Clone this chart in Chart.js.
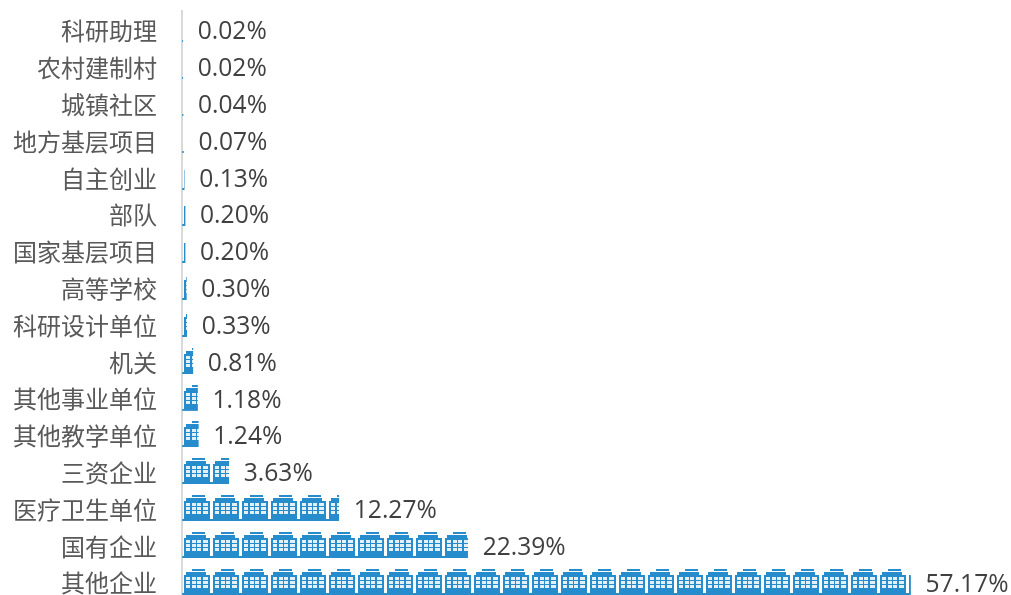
<!DOCTYPE html>
<html><head><meta charset="utf-8">
<style>html,body{margin:0;padding:0;background:#fff;overflow:hidden}#wrap{position:relative;width:1011px;height:595px;overflow:hidden}#wrap canvas{position:absolute;left:0;top:0}</style>
<script src="https://cdn.jsdelivr.net/npm/chart.js@4"></script>
</head><body><div id="wrap"><canvas id="c"></canvas></div>
<script>
const categories = ['科研助理','农村建制村','城镇社区','地方基层项目','自主创业','部队','国家基层项目','高等学校','科研设计单位','机关','其他事业单位','其他教学单位','三资企业','医疗卫生单位','国有企业','其他企业'];
const shares = [0.02,0.02,0.04,0.07,0.13,0.20,0.20,0.30,0.33,0.81,1.18,1.24,3.63,12.27,22.39,57.17];
const FONT = '"Open Sans","Noto Sans CJK SC",sans-serif';
const BLUE = '#268ccb';

function buildingTile(){
  const t = document.createElement('canvas'); t.width = 29; t.height = 26;
  const g = t.getContext('2d');
  g.fillStyle = BLUE;
  g.fillRect(0,24,29,2);
  g.fillRect(1,6,26,18);
  g.fillRect(3,3,20,3);
  g.fillRect(9,0,13,2);
  g.fillStyle = '#e4f0f8';
  [8,12,16].forEach(y=>{
    [[3,4],[9,4],[14,4],[20,5]].forEach(c=>{ g.fillRect(c[0],y,c[1],3); });
  });
  return t;
}
const tile = buildingTile();
function barFill(ctx){
  if (ctx.type !== 'data') return BLUE;
  const chart = ctx.chart, i = ctx.dataIndex;
  const yScale = chart.scales.y, xScale = chart.scales.x;
  if (!yScale || !xScale) return BLUE;
  const p = chart.ctx.createPattern(tile,'repeat-x');
  p.setTransform(new DOMMatrix().translate(Math.round(xScale.getPixelForValue(0)), Math.round(yScale.getPixelForTick(i)-13)));
  return p;
}
const valueLabels = {
  id:'valueLabels',
  afterDatasetsDraw(chart){
    const g = chart.ctx, meta = chart.getDatasetMeta(0);
    g.save(); g.font = '24.6px '+FONT; g.fillStyle = '#404040'; g.textBaseline='middle'; g.textAlign='left';
    meta.data.forEach((el,i)=>{ g.fillText(shares[i].toFixed(2)+'%', el.x+15, el.y+3); });
    g.restore();
  }
};
const el = document.getElementById('c');
el.style.width='1011px'; el.style.height='600px';
el.width=1011; el.height=600;
new Chart(el,{
  type:'bar',
  data:{labels:categories,datasets:[{data:shares,backgroundColor:barFill,barThickness:26,borderWidth:0}]},
  plugins:[valueLabels],
  options:{
    indexAxis:'y',responsive:false,animation:false,devicePixelRatio:1,
    layout:{padding:{top:11,bottom:0,left:0,right:0}},
    plugins:{legend:{display:false},tooltip:{enabled:false},title:{display:false}},
    scales:{
      x:{display:false,min:-0.04,max:65.06},
      y:{
        position:'left',
        afterFit(s){ s.width = 182; s.paddingTop = 0; s.paddingBottom = 0; },
        grid:{display:false,drawTicks:false},
        border:{display:true,color:'#d9d9d9',width:2},
        ticks:{color:'#595959',font:{size:24,family:FONT},padding:25,labelOffset:4,autoSkip:false}
      }
    }
  }
});
</script></body></html>
